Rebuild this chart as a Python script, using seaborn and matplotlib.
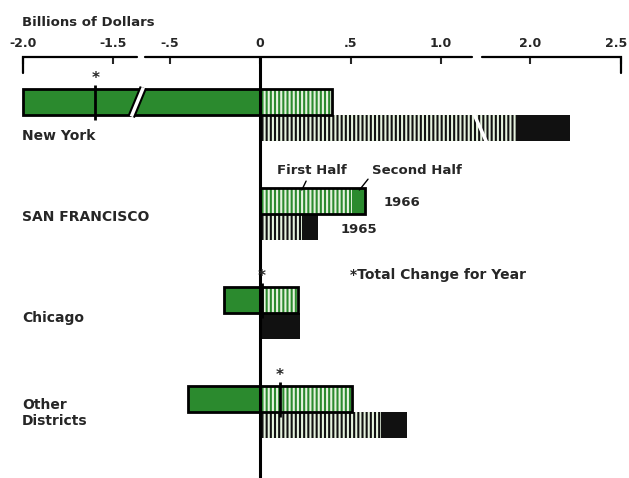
import numpy as np
import pandas as pd
import matplotlib
matplotlib.use("Agg")
import matplotlib.pyplot as plt
import matplotlib.patheffects as pe
import seaborn as sns

# -----------------------------
# Data (billions of dollars)
# -----------------------------

districts = ["New York", "San Francisco", "Chicago", "Other Districts"]
district_labels = ["New York", "SAN FRANCISCO", "Chicago", "Other\nDistricts"]
years = ["1966", "1965"]

first_1966 = [0.40, 0.51, 0.21, 0.51]
second_1966 = [-2.00, 0.07, -0.20, -0.40]
first_1965 = [1.93, 0.23, 0.00, 0.67]
second_1965 = [0.29, 0.09, 0.22, 0.14]

tick_values = [-2.0, -1.5, -0.5, 0, 0.5, 1.0, 2.0, 2.5]
tick_labels = ["-2.0", "-1.5", "-.5", "0", ".5", "1.0", "2.0", "2.5"]

df = pd.DataFrame({
    "district": districts * 2,
    "year": ["1966"] * 4 + ["1965"] * 4,
    "first": first_1966 + first_1965,
    "second": second_1966 + second_1965,
})
df["total"] = df["first"] + df["second"]
# solid (second half) layer sits behind the striped (first half) layer
df["solid"] = np.where(df["second"] > 0, df["total"], df["second"])
df["pos_edge"] = df["first"] + df["second"].clip(lower=0)
df["neg_edge"] = df["second"].clip(upper=0)

# -----------------------------
# Broken x axis as a piecewise scale
# -----------------------------

real_knots = [-3.0, -1.40, -0.65, 1.15, 1.70, 3.0]
disp_knots = [-2.3094, -0.7094, -0.65, 1.15, 1.192, 2.492]


def fwd(x):
    return np.interp(x, real_knots, disp_knots)


def inv(x):
    return np.interp(x, disp_knots, real_knots)


sns.set_style("white")
plt.rcParams["font.family"] = ["DejaVu Sans"]
plt.rcParams["font.weight"] = "bold"
plt.rcParams["hatch.linewidth"] = 1.5

fig = plt.figure(figsize=(6.29, 4.78), dpi=100)
ax = fig.add_axes([0, 0, 1, 1])
ax.set_xscale("function", functions=(fwd, inv))

green = "#2b8a2e"
pal = {"1966": green, "1965": "#111111"}
bar_w = 0.525
common = dict(y="district", hue="year", order=districts, hue_order=years,
              palette=pal, width=bar_w, dodge=True, saturation=1,
              errorbar=None, legend=False, orient="y", ax=ax)

sns.barplot(data=df, x="solid", linewidth=0, **common)
sns.barplot(data=df, x="first", hatch="||||", edgecolor="#e6f3df",
            linewidth=0, **common)
d66 = df[df["year"] == "1966"]
for col in ["pos_edge", "neg_edge"]:
    sns.barplot(data=d66, x=col, facecolor="none", edgecolor="black",
                linewidth=2, **common)

# -----------------------------
# Axis decorations
# -----------------------------

axis_y = 1 - 57 / 478
tick_end = 1 - 73 / 478
trans = ax.get_xaxis_transform()
seg_kw = dict(transform=trans, color="black", lw=1.6, clip_on=False,
              solid_joinstyle="miter")
ax.plot([-2.0, -2.0, -1.03], [tick_end, axis_y, axis_y], **seg_kw)
ax.plot([-0.635, 1.42], [axis_y, axis_y], **seg_kw)
ax.plot([1.735, 2.5, 2.5], [axis_y, axis_y, tick_end], **seg_kw)
ax.axvline(0, ymin=0, ymax=axis_y, color="black", lw=2.2)

# all but the last label as tick labels; the last one is nudged inside
ax.xaxis.tick_top()
ax.set_xticks(tick_values, tick_labels[:-1] + [""])
ax.tick_params(axis="x", direction="in", length=5, width=1.5, pad=5,
               labelsize=9)
ax.annotate(tick_labels[-1], xy=(tick_values[-1], axis_y), xycoords=trans,
            xytext=(-3, 5), textcoords="offset points",
            ha="center", va="bottom", fontsize=9)
ax.spines["top"].set_position(("axes", axis_y))
for s in ax.spines.values():
    s.set_visible(False)
ax.set_yticks([])
ax.set_xlabel("")
ax.set_ylabel("")

# break slashes on the New York bars
half = bar_w / 2
c = fwd(-1.0)
ax.plot(inv([c - 0.033, c + 0.033]), [0.015, -half - 0.015], color="white",
        lw=2.5, solid_capstyle="butt",
        path_effects=[pe.withStroke(linewidth=5.5, foreground="black")])
ax.plot(inv([1.177, 1.254]), [-0.03, half + 0.02], color="white", lw=2.5,
        solid_capstyle="butt")

# total change markers (1966) where halves have opposite signs
f66 = np.array(first_1966)
s66 = np.array(second_1966)
for i in range(len(districts)):
    if np.sign(f66[i]) != np.sign(s66[i]):
        tot = f66[i] + s66[i]
        ax.vlines(tot, i - 0.30, i + 0.05, color="black", lw=2)
        ax.text(tot, i - 0.37, "*", ha="center", va="center", fontsize=11)

# -----------------------------
# Labels
# -----------------------------

label_offsets = [0.21, 0.03, 0.05, 0.01]
for i, (lab, off) in enumerate(zip(district_labels, label_offsets)):
    ax.text(0.035, i + off, lab, transform=ax.get_yaxis_transform(),
            ha="left", va="center", fontsize=10, linespacing=1.25)

ax.text(0.035, 1 - 22 / 478, "Billions of Dollars", transform=ax.transAxes,
        ha="left", va="center", fontsize=9.5)

ax.annotate("First Half", xy=(0.231, 0.758), xytext=(0.286, 0.556),
            ha="center", va="center", fontsize=9.5,
            arrowprops=dict(arrowstyle="-", lw=1, color="black",
                            shrinkA=1, shrinkB=0, relpos=(0.45, 0)))
ax.annotate("Second Half", xy=(0.549, 0.758), xytext=(0.868, 0.556),
            ha="center", va="center", fontsize=9.5,
            arrowprops=dict(arrowstyle="-", lw=1, color="black",
                            shrinkA=1, shrinkB=0, relpos=(0.0, 0.2)))
ax.text(0.785, 0.88, "1966", ha="center", va="center", fontsize=9.5)
ax.text(0.545, 1.16, "1965", ha="center", va="center", fontsize=9.5)
ax.text(0.495, 1.62, "*Total Change for Year", ha="left", va="center",
        fontsize=10)

ax.set_xlim(inv(-260 / 181), inv(369 / 181))
ax.set_ylim(3.667, -1.162)

fig.savefig("out.png", dpi=100, facecolor="white")
